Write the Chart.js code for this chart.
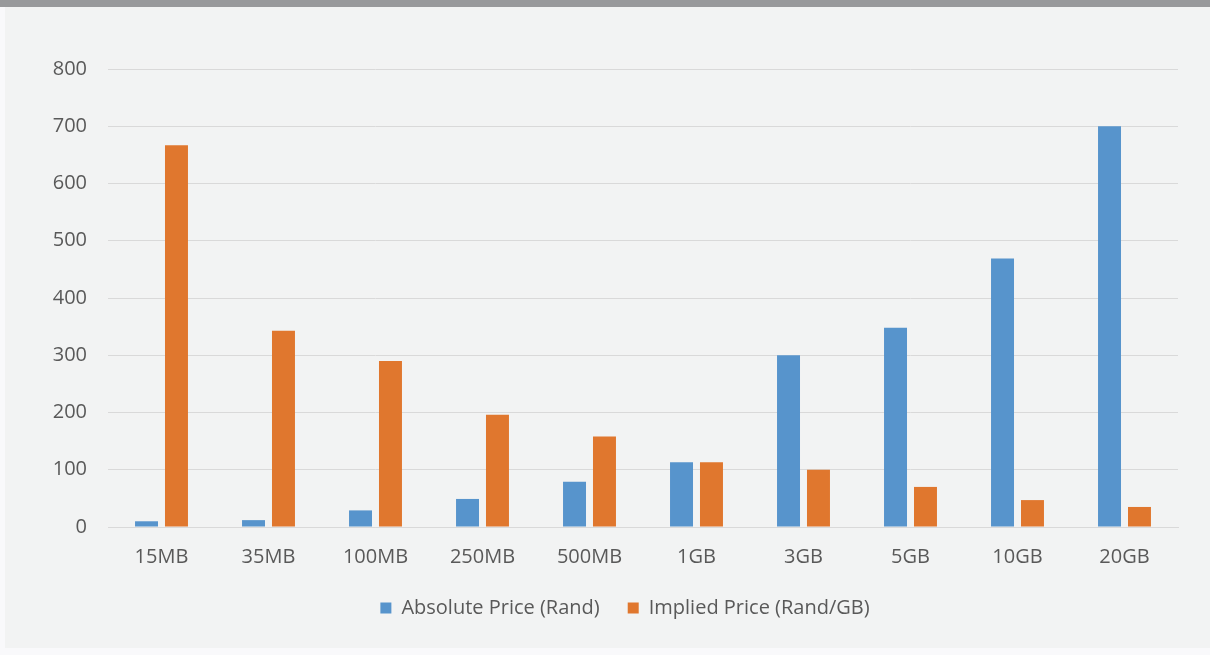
<!DOCTYPE html>
<html>
<head>
<meta charset="utf-8">
<script src="https://cdn.jsdelivr.net/npm/chart.js@4"></script>
<style>
  html, body { margin: 0; padding: 0; }
  body { width: 1210px; height: 655px; background: #f9f9fb; position: relative; overflow: hidden; }
  #panel { position: absolute; left: 5px; top: 0; width: 1205px; height: 648px; background: #f2f3f3; }
  #topbar { position: absolute; left: 0; top: 0; width: 1210px; height: 7px; background: #98999b; }
  #wrap { position: absolute; left: 0; top: 0; width: 1210px; height: 648px; }
</style>
</head>
<body>
<div id="panel"></div>
<div id="topbar"></div>
<div id="wrap"><canvas id="c" width="1210" height="648"></canvas></div>
<script>
const categories = ["15MB", "35MB", "100MB", "250MB", "500MB", "1GB", "3GB", "5GB", "10GB", "20GB"];
const absolutePrice = [10, 12, 29, 49, 79, 113, 300, 348, 469, 700];
const impliedPrice = [667, 343, 290, 196, 158, 113, 100, 70, 47, 35];
const yTicks = [0, 100, 200, 300, 400, 500, 600, 700, 800];

const FONT = "'Open Sans', 'DejaVu Sans', sans-serif";

const legendShift = {
  id: 'legendShift',
  afterLayout(chart) {
    const lg = chart.legend;
    if (lg) { lg.left += 36; lg.right += 36; }
  }
};

new Chart(document.getElementById('c'), {
  type: 'bar',
  data: {
    labels: categories,
    datasets: [
      { label: 'Absolute Price (Rand)', data: absolutePrice, backgroundColor: '#5794cc',
        categoryPercentage: 0.56, barPercentage: 0.767 },
      { label: 'Implied Price (Rand/GB)', data: impliedPrice, backgroundColor: '#e0772e',
        categoryPercentage: 0.56, barPercentage: 0.767 }
    ]
  },
  options: {
    responsive: false,
    animation: false,
    layout: { padding: { top: 69, right: 32, bottom: 20, left: 0 } },
    scales: {
      x: {
        grid: { display: false, drawTicks: false },
        border: { display: true, color: '#d9d9d9', width: 1 },
        afterFit: (s) => { s.height -= 17; },
        ticks: { color: '#595959', font: { family: FONT, size: 20 }, padding: 18, maxRotation: 0 }
      },
      y: {
        min: 0, max: 800,
        afterBuildTicks: (s) => { s.ticks = yTicks.map(v => ({ value: v })); },
        afterFit: (s) => { s.width = 108; },
        grid: { color: '#d9d9d9', lineWidth: 1, drawTicks: false },
        border: { display: false },
        ticks: { color: '#595959', font: { family: FONT, size: 20 }, padding: 21 }
      }
    },
    plugins: {
      legend: {
        position: 'bottom',
        labels: { boxWidth: 11, boxHeight: 11, color: '#595959', font: { family: FONT, size: 20 }, padding: 28 }
      },
      tooltip: { enabled: false }
    }
  },
  plugins: [legendShift]
});
</script>
</body>
</html>
